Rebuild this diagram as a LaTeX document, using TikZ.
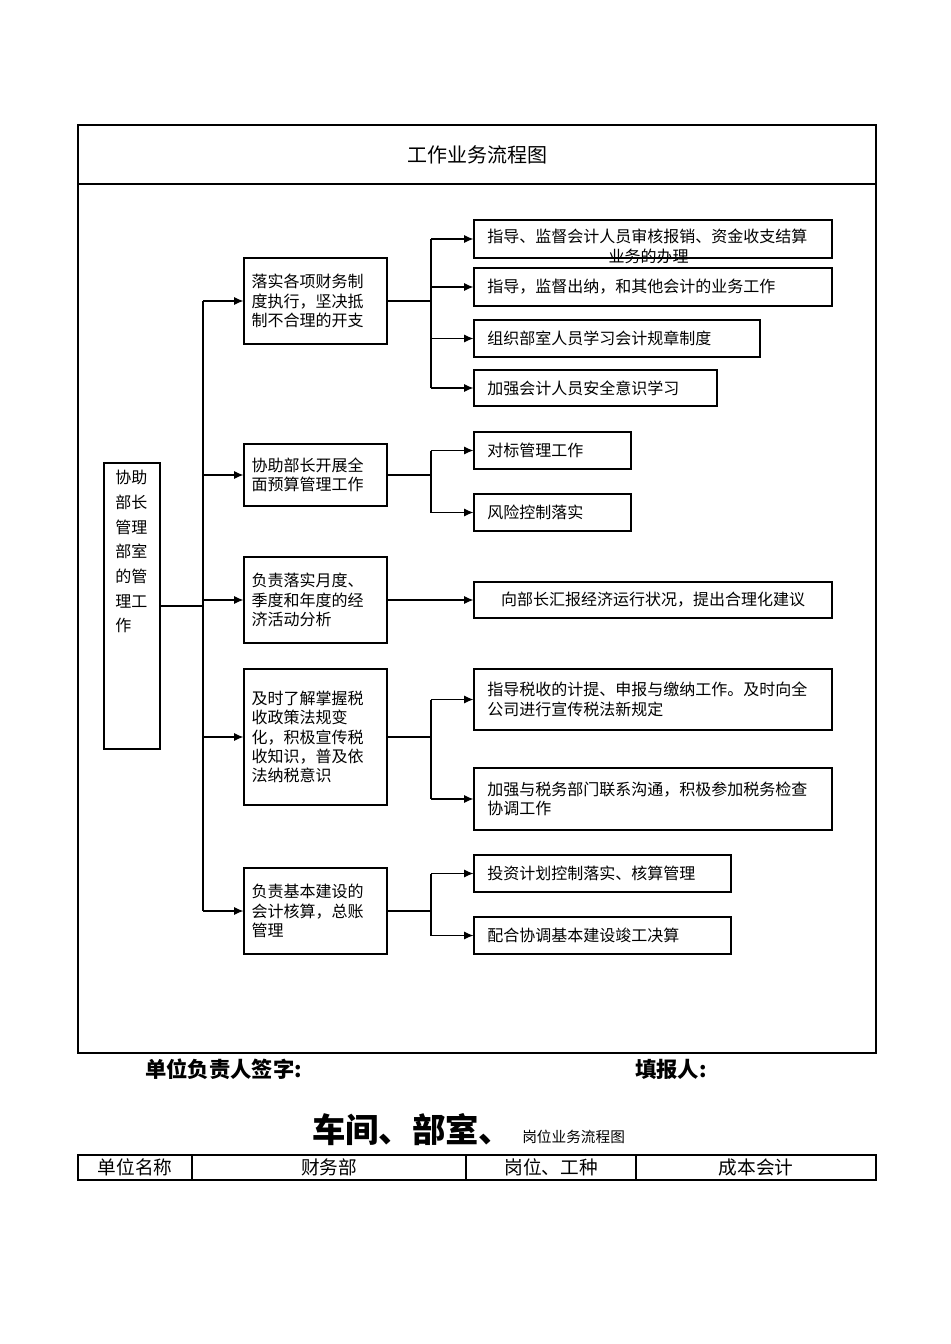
\documentclass[tikz,border=0pt]{standalone}
\usepackage{fontspec}
\setmainfont{Noto Sans CJK SC}
\XeTeXlinebreaklocale "zh"
\XeTeXlinebreakskip=0pt plus 1pt
\usetikzlibrary{arrows.meta}
\begin{document}
\begin{tikzpicture}[x=0.75pt,y=-0.75pt,
  every node/.style={inner sep=0pt,font=\fontsize{12}{14.5}\selectfont},
  ln/.style={line width=0.8pt},
  arr/.style={ln,-{Latex[length=7pt,width=6pt]}},
  box/.style 2 args={draw,line width=0.8pt,minimum width=#1*0.75pt,minimum height=#2*0.75pt},
  mid/.style={box={143}{#1},align=left,text width=96pt},
  rt/.style 2 args={box={#1}{#2},align=left,text width=#1*0.75pt-20pt}]
\useasboundingbox (0,0) rectangle (950,1344);
% frame
\node[box={798}{928}] (frame) at (477,589) {};
\draw[ln] (78,184) -- (876,184);
\node[font=\fontsize{15}{18}\selectfont] (title) at (477,155) {工作业务流程图};
% left
\node[box={56}{286}] (L) at (132,606) {};
\node[anchor=north,align=left,text width=25pt,font=\fontsize{12}{18.5}\selectfont] (Lt) at (132,470) {协助\\部长\\管理\\部室\\的管\\理工\\作};
% middle
\node[mid=86] (m1) at (315.5,301) {落实各项财务制\\度执行，坚决抵\\制不合理的开支};
\node[mid=62] (m2) at (315.5,475) {协助部长开展全\\面预算管理工作};
\node[mid=86] (m3) at (315.5,600) {负责落实月度、\\季度和年度的经\\济活动分析};
\node[mid=136] (m4) at (315.5,737) {及时了解掌握税\\收政策法规变\\化，积极宣传税\\收知识，普及依\\法纳税意识};
\node[mid=86] (m5) at (315.5,911) {负责基本建设的\\会计核算，总账\\管理};
% trunk
\coordinate (jt) at (203,301);
\coordinate (jb) at (203,911);
\draw[ln] (L.east) -- (L.east -| jt);
\draw[ln] (jt) -- (jb);
\foreach \m in {m1,m2,m3,m4,m5} \draw[arr] (jt |- \m.west) -- (\m.west);
% right boxes
\node[box={358}{38}] (ra) at (653,239) {};
\node[anchor=north west,align=left] (rat) at (487,229) {指导、监督会计人员审核报销、资金收支结算\\\makebox[242pt]{业务的办理}};
\node[rt={358}{38}] (rb) at (653,287) {指导，监督出纳，和其他会计的业务工作};
\node[rt={286}{37}] (rc) at (617,338.5) {组织部室人员学习会计规章制度};
\node[rt={243}{36}] (rd) at (595.5,388) {加强会计人员安全意识学习};
\node[rt={157}{37}] (re) at (552.5,450.5) {对标管理工作};
\node[rt={157}{37}] (rf) at (552.5,512.5) {风险控制落实};
\node[box={358}{36},align=center] (rg) at (653,600) {向部长汇报经济运行状况，提出合理化建议};
\node[rt={358}{61}] (rh) at (653,699.5) {指导税收的计提、申报与缴纳工作。及时向全\\公司进行宣传税法新规定};
\node[rt={358}{62}] (ri) at (653,799) {加强与税务部门联系沟通，积极参加税务检查\\协调工作};
\node[rt={257}{37}] (rj) at (602.5,873.5) {投资计划控制落实、核算管理};
\node[rt={257}{37}] (rk) at (602.5,935.5) {配合协调基本建设竣工决算};
% branches
\coordinate (b1t) at (431,239); \coordinate (b1b) at (431,388);
\draw[ln] (m1.east) -- (m1.east -| b1t); \draw[ln] (b1t) -- (b1b);
\foreach \r in {ra,rb,rc,rd} \draw[arr] (b1t |- \r.west) -- (\r.west);
\coordinate (b2t) at (431,450.5); \coordinate (b2b) at (431,512.5);
\draw[ln] (m2.east) -- (m2.east -| b2t); \draw[ln] (b2t) -- (b2b);
\foreach \r in {re,rf} \draw[arr] (b2t |- \r.west) -- (\r.west);
\draw[arr] (m3.east) -- (rg.west);
\coordinate (b4t) at (431,699.5); \coordinate (b4b) at (431,799);
\draw[ln] (m4.east) -- (m4.east -| b4t); \draw[ln] (b4t) -- (b4b);
\foreach \r in {rh,ri} \draw[arr] (b4t |- \r.west) -- (\r.west);
\coordinate (b5t) at (431,873.5); \coordinate (b5b) at (431,935.5);
\draw[ln] (m5.east) -- (m5.east -| b5t); \draw[ln] (b5t) -- (b5b);
\foreach \r in {rj,rk} \draw[arr] (b5t |- \r.west) -- (\r.west);
% bottom
\node[anchor=west,font=\fontsize{16}{18}\selectfont\bfseries] (sig) at (145,1069) {单位负责人签字:};
\node[anchor=west,font=\fontsize{16}{18}\selectfont\bfseries] (fill) at (635,1069) {填报人:};
\node[anchor=base west,font=\fontsize{25}{28}\selectfont\bfseries] (big) at (312,1142) {车间、部室、};
\node[anchor=base west,font=\fontsize{11}{13}\selectfont] (small) at (522,1142) {岗位业务流程图};
\node[box={798}{25}] (tab) at (477,1167.5) {};
\draw[ln] (192,1155) -- (192,1180);
\draw[ln] (466,1155) -- (466,1180);
\draw[ln] (636,1155) -- (636,1180);
\node[font=\fontsize{14}{16}\selectfont] (c1) at (135,1167.5) {单位名称};
\node[font=\fontsize{14}{16}\selectfont] (c2) at (329,1167.5) {财务部};
\node[font=\fontsize{14}{16}\selectfont] (c3) at (551,1167.5) {岗位、工种};
\node[font=\fontsize{14}{16}\selectfont] (c4) at (756,1167.5) {成本会计};
\end{tikzpicture}
\end{document}
